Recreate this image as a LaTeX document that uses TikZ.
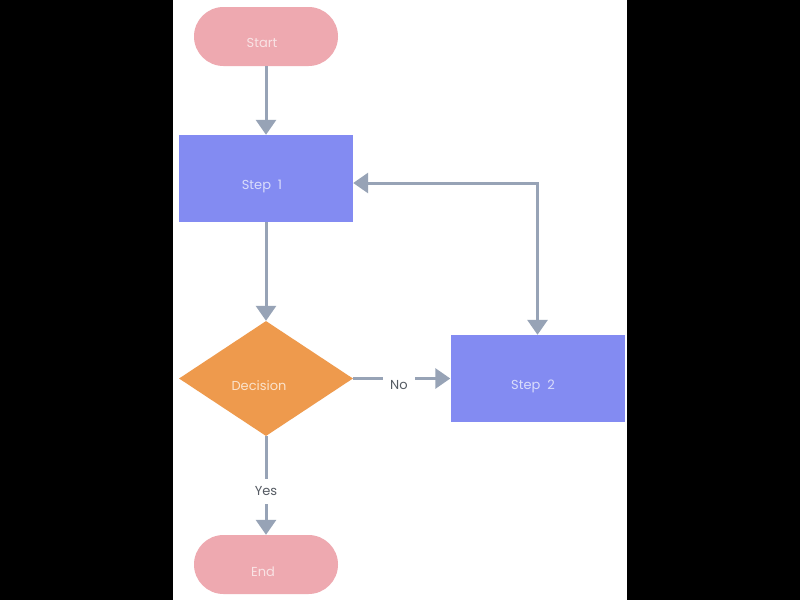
\documentclass[tikz,border=0pt]{standalone}
\usepackage{fontspec}
\setmainfont{Poppins}
\usetikzlibrary{shapes.geometric,shapes.misc,arrows.meta}
\definecolor{pinkf}{HTML}{EEA9B0}
\definecolor{bluef}{HTML}{838BF2}
\definecolor{orangef}{HTML}{EE9A4D}
\definecolor{linec}{HTML}{97A3B6}
\definecolor{pinkt}{HTML}{F9E3E5}
\definecolor{bluet}{HTML}{DADDFB}
\definecolor{oranget}{HTML}{FBE3CC}
\definecolor{labelc}{HTML}{555B63}
\tikzset{
  terminal/.style={draw=none,fill=pinkf,rounded rectangle,minimum width=144pt,minimum height=59pt,inner sep=0pt},
  stepbox/.style={draw=none,fill=bluef,rectangle,minimum width=174pt,minimum height=87pt,inner sep=0pt},
  decisionbox/.style={draw=none,fill=orangef,diamond,minimum width=174pt,minimum height=115pt,inner sep=0pt,aspect=1.5},
  txt/.style={font=\fontsize{13}{15}\selectfont,inner sep=0pt},
  tip/.tip={Triangle[width=20pt,length=15pt]},
  conn/.style={draw=linec,line width=3pt,-tip},
  lbl/.style={font=\fontsize{13}{15}\selectfont,text=labelc,fill=white,inner xsep=7pt,inner ysep=8pt},
}
\begin{document}
\begin{tikzpicture}[x=1pt,y=-1pt]
\fill[black] (0,0) rectangle (800,600);
\fill[white] (173,0) rectangle (627,600);
\useasboundingbox (0,0) rectangle (800,600);
\node[terminal] (start) at (266,36.5) {};
\node[stepbox] (s1) at (266,178.5) {};
\node[decisionbox] (dec) at (266,378.5) {};
\node[stepbox] (s2) at (537.5,378.5) {};
\node[terminal] (end) at (266,564.5) {};
\node[txt,text=pinkt] (tstart) at (262,43) {Start};
\node[txt,text=bluet] (ts1) at (262,186) {Step\ \ 1};
\node[txt,text=oranget] (tdec) at (259,386) {Decision};
\node[txt,text=bluet] (ts2) at (533,386) {Step\ \ 2};
\node[txt,text=pinkt] (tend) at (263,572) {End};
\coordinate (corner) at (537.5,183);
\draw[conn] (start.south) -- (s1.north);
\draw[conn] (s1.south) -- (dec.north);
\draw[conn] (dec.east) -- node[lbl,yshift=-7pt,pos=0.47] (no) {No} (s2.west);
\draw[conn] (dec.south) -- node[lbl,pos=0.56] (yes) {Yes} (end.north);
\draw[conn,tip-tip] (s1.east |- corner) -- (corner) -- (s2.north);
\end{tikzpicture}
\end{document}
